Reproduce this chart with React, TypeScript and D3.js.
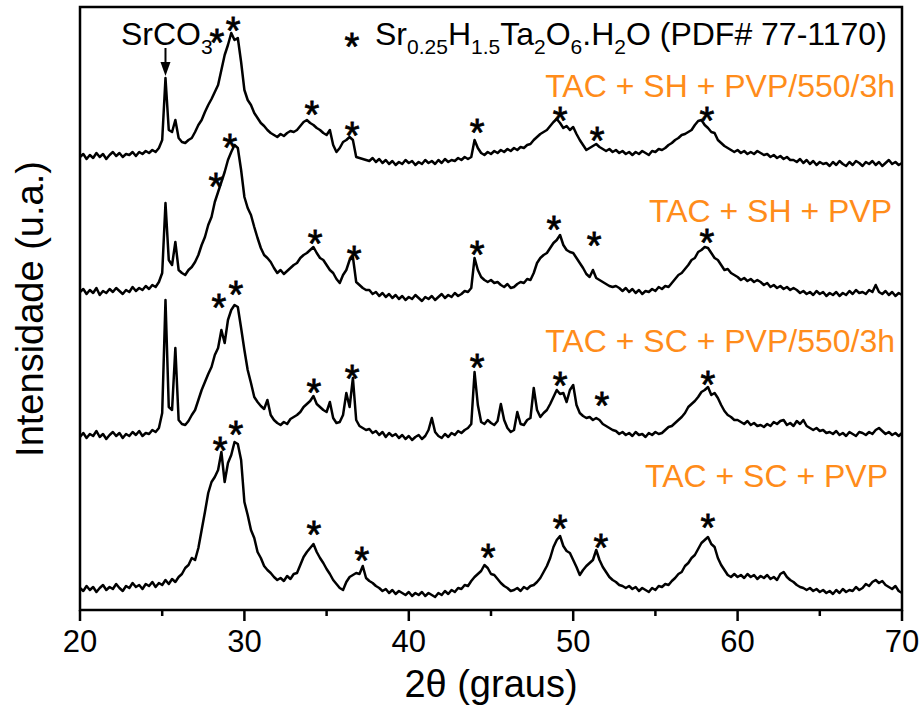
import * as d3 from "d3"

// 2θ sampling grid (degrees), 0.2° step
const twoTheta = d3.range(251).map((i) => +(20 + i * 0.2).toFixed(1))

// stacked intensities (a.u., offset included), one row = 2°
const tacShPvp550 = [
  453, 456, 451, 455, 452, 457, 453, 456, 451, 455,
  458, 454, 457, 453, 456, 455, 458, 454, 458, 456,
  459, 457, 460, 458, 462, 470, 532, 480, 478, 490,
  472, 468, 467, 470, 472, 478, 485, 490, 498, 505,
  511, 518, 525, 540, 555, 565, 577, 570, 572, 548,
  520, 510, 505, 497, 492, 487, 484, 480, 477, 475,
  473, 476, 474, 477, 479, 478, 480, 484, 488, 490,
  487, 485, 482, 480, 477, 475, 480, 465, 458, 462,
  468, 470, 473, 470, 453, 452, 451, 450, 449, 452,
  448, 451, 447, 450, 446, 449, 445, 448, 446, 450,
  447, 449, 445, 448, 446, 450, 447, 449, 446, 450,
  447, 451, 448, 450, 449, 452, 450, 453, 451, 453,
  470, 462, 457, 455, 458, 456, 459, 457, 460, 458,
  461, 459, 462, 460, 463, 462, 465, 466, 470, 473,
  476, 478, 480, 484, 488, 491, 487, 482, 484, 480,
  483, 476, 470, 465, 460, 462, 464, 466, 463, 461,
  459, 461, 458, 460, 457, 459, 456, 458, 455, 458,
  456, 459, 457, 455, 459, 458, 461, 460, 462, 465,
  467, 470, 472, 475, 476, 478, 480, 485, 489, 490,
  485, 482, 478, 477, 470, 467, 464, 462, 460, 458,
  460, 457, 459, 456, 458, 456, 459, 457, 455, 456,
  453, 455, 452, 454, 451, 453, 450, 450, 448, 451,
  447, 450, 446, 449, 445, 448, 446, 447, 444, 448,
  445, 449, 446, 444, 448, 445, 449, 447, 444, 448,
  446, 449, 445, 448, 444, 447, 450, 446, 448, 445,
  447,
]

const tacShPvp = [
  318, 321, 316, 320, 317, 322, 315, 319, 317, 321,
  318, 322, 319, 316, 320, 318, 323, 319, 322, 320,
  324, 321, 325, 323, 328, 337, 407, 350, 345, 368,
  340, 337, 335, 340, 343, 348, 355, 365, 373, 385,
  393, 408, 418, 428, 438, 450, 458, 465, 462, 440,
  413, 402, 395, 383, 372, 362, 355, 352, 348, 342,
  337, 340, 336, 339, 342, 345, 347, 352, 355, 357,
  360, 363, 357, 352, 350, 345, 340, 337, 331, 327,
  335, 340, 350, 353, 328, 325, 322, 320, 320, 316,
  318, 314, 317, 313, 316, 312, 315, 311, 314, 310,
  313, 311, 315, 312, 309, 313, 311, 314, 310, 313,
  316, 312, 315, 313, 317, 314, 316, 319, 318, 322,
  352, 340, 333, 330, 328, 330, 327, 328, 325, 323,
  326, 322, 323, 326, 328, 327, 331, 330, 337, 347,
  352, 355, 357, 362, 367, 370, 375, 365, 360, 358,
  357, 352, 347, 342, 336, 333, 340, 332, 330, 328,
  326, 324, 323, 324, 322, 319, 322, 318, 321, 317,
  320, 316, 319, 318, 321, 319, 323, 321, 324, 323,
  327, 331, 335, 337, 341, 345, 350, 352, 358, 360,
  363, 362, 357, 352, 350, 345, 340, 341, 337, 335,
  333, 330, 332, 329, 331, 328, 330, 328, 325, 327,
  323, 325, 322, 324, 321, 323, 320, 322, 320, 317,
  319, 316, 318, 315, 319, 316, 318, 314, 317, 315,
  318, 314, 317, 315, 319, 316, 320, 317, 318, 316,
  320, 318, 325, 318, 316, 319, 315, 318, 314, 317,
  315,
]

const tacScPvp550 = [
  173, 177, 172, 176, 174, 179, 173, 176, 171, 175,
  178, 174, 177, 172, 176, 174, 178, 175, 179, 174,
  177, 176, 180, 178, 182, 197, 310, 203, 200, 262,
  190, 186, 185, 189, 195, 200, 210, 220, 228, 236,
  243, 255, 262, 280, 267, 290, 300, 305, 303, 282,
  260, 240, 227, 213, 208, 204, 201, 210, 195, 190,
  187, 185, 188, 186, 191, 193, 195, 198, 203, 206,
  209, 214, 206, 203, 200, 198, 208, 192, 187, 188,
  195, 217, 203, 232, 190, 184, 182, 180, 181, 177,
  179, 175, 178, 173, 177, 174, 176, 172, 175, 171,
  174, 170, 173, 175, 171, 174, 180, 192, 178, 174,
  172, 176, 173, 177, 175, 179, 177, 180, 182, 186,
  238, 205, 188, 186, 190, 187, 185, 189, 206, 190,
  182, 178, 180, 198, 186, 185, 190, 192, 222, 200,
  193, 197, 200, 206, 213, 220, 216, 217, 208, 220,
  225, 205, 197, 194, 192, 193, 190, 192, 190, 186,
  184, 182, 180, 179, 176, 178, 175, 177, 174, 178,
  175, 176, 173, 177, 175, 178, 176, 177, 180, 183,
  184, 187, 190, 193, 197, 203, 206, 209, 213, 218,
  220, 223, 215, 217, 212, 205, 199, 195, 193, 190,
  190, 188, 186, 189, 185, 187, 184, 185, 183, 186,
  184, 188, 186, 189, 190, 185, 187, 184, 189, 186,
  190, 184, 182, 180, 182, 179, 180, 177, 178, 176,
  179, 175, 177, 174, 178, 176, 174, 178, 177, 175,
  178, 176, 180, 182, 179, 176, 178, 175, 177, 174,
  177,
]

const tacScPvp = [
  22, 19, 24, 20, 23, 18, 22, 25, 20, 23,
  21, 26, 22, 19, 24, 22, 27, 23, 25, 21,
  26, 24, 28, 23, 27, 25, 30, 26, 31, 28,
  33, 36, 42, 45, 52, 50, 62, 80, 98, 117,
  128, 133, 140, 158, 128, 147, 155, 168, 166, 150,
  108, 95, 80, 72, 58, 52, 44, 40, 37, 33,
  30, 32, 29, 34, 31, 36, 37, 45, 53, 58,
  62, 66, 58, 52, 47, 41, 36, 30, 26, 22,
  20, 28, 33, 35, 37, 36, 44, 32, 29, 27,
  24, 22, 19, 21, 17, 20, 16, 19, 17, 15,
  18, 14, 17, 15, 18, 14, 17, 15, 13, 17,
  15, 19, 16, 20, 18, 22, 21, 25, 24, 29,
  33, 36, 39, 45, 42, 36, 35, 31, 27, 24,
  22, 19, 20, 22, 19, 23, 21, 24, 25, 28,
  32, 38, 44, 52, 63, 70, 74, 64, 59, 57,
  50, 43, 35, 40, 44, 47, 50, 60, 50, 43,
  38, 33, 30, 28, 25, 24, 22, 24, 21, 23,
  19, 22, 20, 18, 22, 20, 24, 23, 26, 25,
  29, 32, 36, 38, 44, 47, 52, 55, 61, 67,
  70, 73, 66, 63, 52, 45, 40, 35, 33, 36,
  33, 35, 32, 36, 33, 35, 31, 34, 32, 35,
  31, 33, 30, 36, 38, 33, 30, 28, 25, 23,
  22, 20, 22, 19, 21, 18, 20, 17, 19, 16,
  20, 17, 21, 18, 20, 19, 23, 20, 22, 26,
  24, 28, 30, 27, 29, 25, 23, 21, 24, 19,
  17,
]

// Sr0.25H1.5Ta2O6.H2O reflections marked with "*" : [2θ, intensity]
const marksShPvp550 = [[28.33, 575], [29.31, 587], [34.11, 503], [36.55, 482], [44.15, 485], [49.2, 497], [51.45, 477], [58.14, 497]]
const marksShPvp = [[28.27, 431], [29.12, 470], [34.3, 374], [36.67, 358], [44.15, 363], [48.83, 388], [51.27, 372], [58.14, 375]]
const marksScPvp550 = [[28.45, 310], [29.49, 323], [34.23, 225], [36.55, 239], [44.15, 250], [49.2, 232], [51.75, 212], [58.2, 233]]
const marksScPvp = [[28.52, 167], [29.49, 183], [34.23, 83], [37.15, 57], [44.82, 60], [49.2, 89], [51.69, 70], [58.2, 90]]

const sampleNames = ["TAC + SH + PVP/550/3h", "TAC + SH + PVP", "TAC + SC + PVP/550/3h", "TAC + SC + PVP"]
const majorTicks = [20, 30, 40, 50, 60, 70]
const minorTicks = [25, 35, 45, 55, 65]
const srco3Peak = 25.2

const FONT = "Liberation Sans, Arial, Helvetica, sans-serif"

export default function App() {
  const margin = { top: 7, right: 21, bottom: 101, left: 80 }
  const W = 923
  const H = 711

  const x = d3.scaleLinear().domain([20, 70]).range([margin.left, W - margin.right])
  const y = d3.scaleLinear().domain([0, 603]).range([H - margin.bottom, margin.top])

  const line = d3
    .line<number>()
    .x((_, i) => x(twoTheta[i]))
    .y((d) => y(d))

  const series = [tacShPvp550, tacShPvp, tacScPvp550, tacScPvp]
  const marks = [marksShPvp550, marksShPvp, marksScPvp550, marksScPvp]

  // label placement (right edge, baseline)
  const labelPos = [
    [895, 97],
    [892, 222],
    [895, 352],
    [888, 487],
  ]

  // asterisk glyph sits high in the em box; shift so glyph centre lands on the point
  const starSize = 38
  const starDy = starSize * 0.5625
  const ax = x(srco3Peak)

  return (
    <svg width={W} height={H} style={{ position: "absolute", left: 0, top: 0 }} fontFamily={FONT}>
      <rect x={0} y={0} width={W} height={H} fill="white" />

      {/* patterns */}
      {series.map((s, i) => (
        <path key={i} d={line(s) || ""} fill="none" stroke="black" strokeWidth={2.5} strokeLinejoin="round" />
      ))}

      {/* peak markers */}
      {marks.map((m, i) =>
        m.map(([t, v], j) => (
          <text
            key={`${i}-${j}`}
            x={x(t)}
            y={y(v) + starDy}
            textAnchor="middle"
            fontSize={starSize}
            fill="black"
            stroke="black"
            strokeWidth={0.8}
          >
            *
          </text>
        ))
      )}

      {/* sample names */}
      {sampleNames.map((n, i) => (
        <text key={n} x={labelPos[i][0]} y={labelPos[i][1]} textAnchor="end" fontSize={32} fill="#ff8c1a">
          {n}
        </text>
      ))}

      {/* SrCO3 label and arrow */}
      <text x={121} y={45} fontSize={32} fill="black">
        SrCO
        <tspan fontSize={21} dy={9}>3</tspan>
      </text>
      <line x1={ax} x2={ax} y1={48} y2={64} stroke="black" strokeWidth={2} />
      <path d={`M${ax - 5},62 L${ax + 5},62 L${ax},76 Z`} fill="black" />

      {/* phase legend */}
      <text
        x={352}
        y={39 + starDy}
        textAnchor="middle"
        fontSize={starSize}
        fill="black"
        stroke="black"
        strokeWidth={0.8}
      >
        *
      </text>
      <text x={375} y={45} fontSize={32} fill="black">
        Sr
        <tspan fontSize={21} dy={9}>0.25</tspan>
        <tspan dy={-9}>H</tspan>
        <tspan fontSize={21} dy={9}>1.5</tspan>
        <tspan dy={-9}>Ta</tspan>
        <tspan fontSize={21} dy={9}>2</tspan>
        <tspan dy={-9}>O</tspan>
        <tspan fontSize={21} dy={9}>6</tspan>
        <tspan dy={-9}>.H</tspan>
        <tspan fontSize={21} dy={9}>2</tspan>
        <tspan dy={-9}>O (PDF# 77-1170)</tspan>
      </text>

      {/* frame */}
      <rect
        x={margin.left}
        y={margin.top}
        width={W - margin.left - margin.right}
        height={H - margin.top - margin.bottom}
        fill="none"
        stroke="black"
        strokeWidth={2.5}
      />

      {/* x axis ticks */}
      {majorTicks.map((t) => (
        <g key={t}>
          <line x1={x(t)} x2={x(t)} y1={y(0)} y2={y(0) + 11} stroke="black" strokeWidth={2.5} />
          <text x={x(t)} y={652} textAnchor="middle" fontSize={31} fill="black">
            {t}
          </text>
        </g>
      ))}
      {minorTicks.map((t) => (
        <line key={t} x1={x(t)} x2={x(t)} y1={y(0)} y2={y(0) + 6} stroke="black" strokeWidth={2.5} />
      ))}

      {/* axis titles */}
      <text x={491} y={697} textAnchor="middle" fontSize={38} fill="black">
        2θ (graus)
      </text>
      <text transform="translate(43,309) rotate(-90)" textAnchor="middle" fontSize={38} fill="black">
        Intensidade (u.a.)
      </text>
    </svg>
  )
}
